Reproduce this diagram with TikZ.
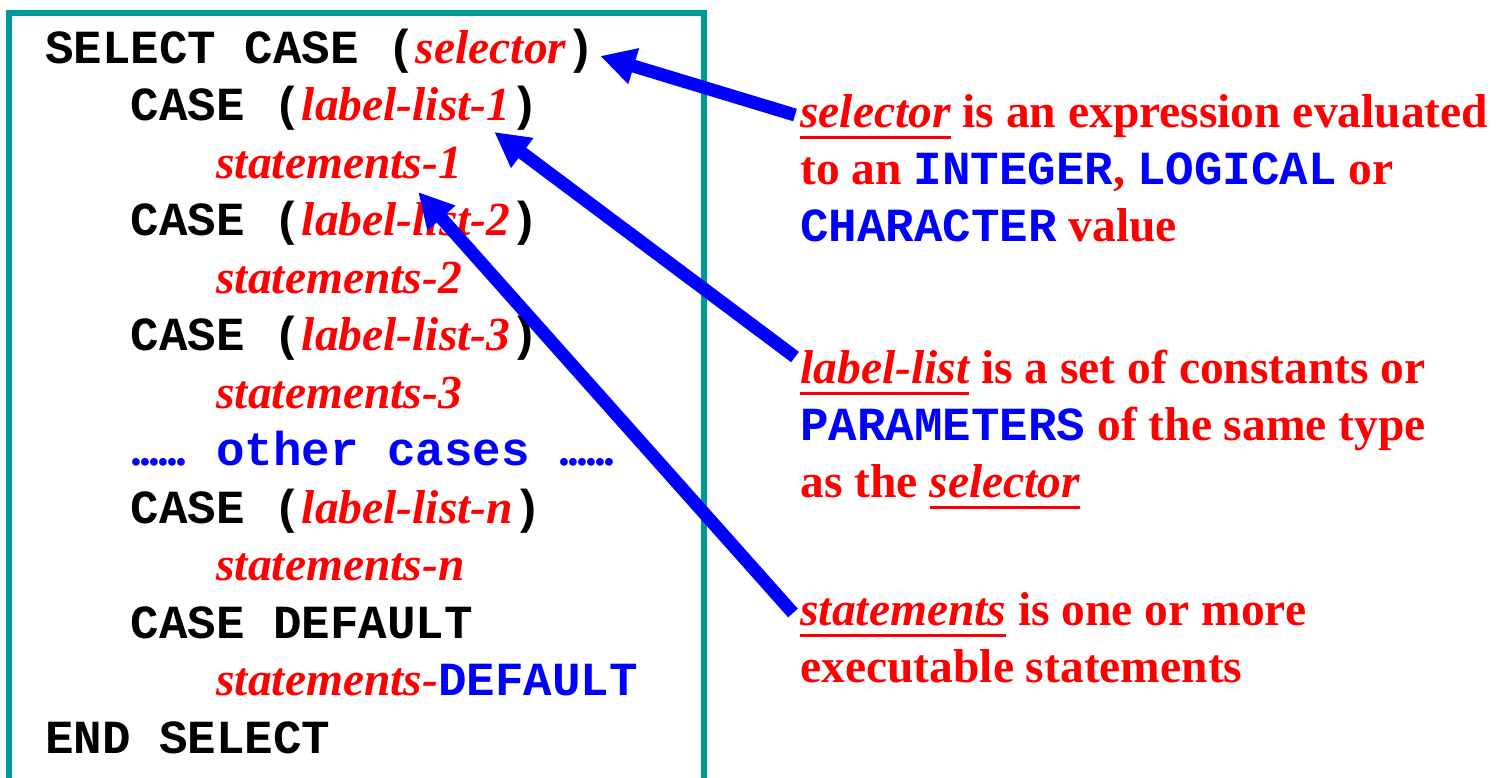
\documentclass[tikz,border=0pt]{standalone}
\usepackage{fontspec}
\setmainfont{Liberation Serif}
\newfontfamily\codefont{Liberation Mono}
\usetikzlibrary{arrows.meta}
\definecolor{boxteal}{RGB}{0,153,153}
\definecolor{txtred}{RGB}{255,0,0}
\definecolor{kwblue}{RGB}{0,0,255}
\newcommand\fsz{\fontsize{23.75pt}{28pt}\selectfont}
\newcommand\ivar[1]{{\color{txtred}\rmfamily\bfseries\itshape #1}}
\newcommand\kw[1]{{\color{kwblue}\codefont\bfseries #1}}
\newcommand\myul[1]{\setbox0\hbox{#1}\rlap{\rule[-5.75pt]{\wd0}{1.5pt}}\box0{}}
\newcommand\sixdots{{\rmfamily\bfseries .\kern-1.45pt.\kern-1.45pt.\kern-1.45pt.\kern-1.45pt.\kern-1.45pt.}}
\tikzset{
  codeline/.style={anchor=base west, inner sep=0pt, font=\fsz\codefont\bfseries, text=black},
  noteline/.style={anchor=base west, inner sep=0pt, font=\fsz\rmfamily\bfseries, text=txtred},
  codebox/.style={draw=boxteal, line width=3pt},
  pointer/.style={draw=kwblue, line width=6.5pt, -{Triangle[length=17.5pt,width=17.5pt]}}
}
\begin{document}
\begin{tikzpicture}[x=0.5pt,y=-0.5pt]
\useasboundingbox (0,0) rectangle (1499,777);
\begin{scope}
\clip (0,0) rectangle (1499,777);
\draw[codebox] (9,13) rectangle (704,800);
\end{scope}
% code lines
\node[codeline] (L1) at (45,63) {SELECT CASE (\ivar{selector})};
\node[codeline] (L2) at (130.5,120.5) {CASE (\ivar{label-list-1})};
\node[codeline] (L3) at (216,178) {\ivar{statements-1}};
\node[codeline] (L4) at (130.5,235.5) {CASE (\ivar{label-list-2})};
\node[codeline] (L5) at (216,293) {\ivar{statements-2}};
\node[codeline] (L6) at (130.5,350.5) {CASE (\ivar{label-list-3})};
\node[codeline] (L7) at (216,408) {\ivar{statements-3}};
\node[codeline, text=kwblue] (L8a) at (130.5,465.5) {\sixdots};
\node[codeline, text=kwblue] (L8b) at (216,465.5) {other cases};
\node[codeline, text=kwblue] (L8c) at (558,465.5) {\sixdots};
\node[codeline] (L9) at (130.5,523) {CASE (\ivar{label-list-n})};
\node[codeline] (L10) at (216,580.5) {\ivar{statements-n}};
\node[codeline] (L11) at (130.5,638) {CASE DEFAULT};
\node[codeline] (L12) at (216,695.5) {\ivar{statements-}\kw{DEFAULT}};
\node[codeline] (L13) at (45,753) {END SELECT};
% notes
\node[noteline] (R1) at (800,127) {\myul{\itshape selector} is an expression evaluated};
\node[noteline] (R2) at (800,184) {to an \kw{INTEGER}, \kw{LOGICAL} or};
\node[noteline] (R3) at (800,241) {\kw{CHARACTER} value};
\node[noteline] (R4) at (800,383) {\myul{\itshape label-list} is a set of constants or};
\node[noteline] (R5) at (800,440) {\kw{PARAMETERS} of the same type};
\node[noteline] (R6) at (800,497) {as the \myul{\itshape selector}};
\node[noteline] (R7) at (800,625) {\myul{\itshape statements} is one or more};
\node[noteline] (R8) at (800,682) {executable statements};
% arrow ends
\coordinate (tail1) at ([shift={(-5,-12)}]R1.base west);
\coordinate (tail2) at ([shift={(-5,-26)}]R4.base west);
\coordinate (tail3) at ([shift={(-7,-12)}]R7.base west);
\coordinate (tip1) at ([shift={(5,-7)}]L1.base east);
\coordinate (tip2) at ([shift={(-45,11.5)}]L2.base east);
\coordinate (tip3) at ([shift={(-44,14)}]L3.base east);
\draw[pointer] (tail1) -- (tip1);
\draw[pointer] (tail2) -- (tip2);
\draw[pointer] (tail3) -- (tip3);
\end{tikzpicture}
\end{document}
